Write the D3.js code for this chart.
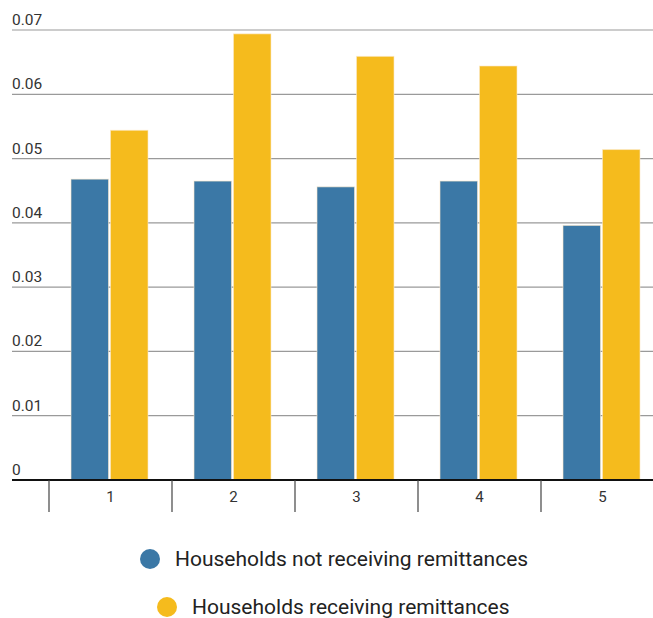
<!DOCTYPE html>
<html>
<head>
<meta charset="utf-8">
<script src="https://cdn.jsdelivr.net/npm/d3@7"></script>
<style>
  body { margin: 0; background: #fff; }
  svg { display: block; font-family: Roboto, sans-serif; }
</style>
</head>
<body>
<svg id="chart"></svg>
<script>
// data
var categories = ["1", "2", "3", "4", "5"];
var notReceiving = [0.0468, 0.0465, 0.0456, 0.0465, 0.0396];
var receiving = [0.0544, 0.0694, 0.0659, 0.0644, 0.0514];
var yTicks = [0, 0.01, 0.02, 0.03, 0.04, 0.05, 0.06, 0.07];
var seriesNames = ["Households not receiving remittances", "Households receiving remittances"];
var seriesColors = ["#3b78a6", "#f5bb1d"];

var width = 653, height = 618;
var svg = d3.select("#chart").attr("width", width).attr("height", height);

var x0 = 49, bandW = 123;
var x = d3.scaleBand()
  .domain(categories)
  .range([x0, x0 + bandW * categories.length])
  .paddingInner(0).paddingOuter(0);

var y = d3.scaleLinear().domain([0, 0.07]).range([480, 30]);

// gridlines + tick labels
var grid = svg.append("g");
grid.selectAll("line")
  .data(yTicks.filter(function(d) { return d > 0; }))
  .enter().append("line")
  .attr("x1", 12).attr("x2", width)
  .attr("y1", function(d) { return y(d); })
  .attr("y2", function(d) { return y(d); })
  .attr("stroke", "#9a9a9a")
  .attr("stroke-width", 1.2);

grid.selectAll("text")
  .data(yTicks)
  .enter().append("text")
  .attr("x", 12)
  .attr("y", function(d) { return y(d) - 5; })
  .attr("fill", "#333")
  .attr("font-size", "15.5px")
  .text(function(d) { return d === 0 ? "0" : d3.format(".2f")(d); });

// bars
var data = categories.map(function(c, i) {
  return { cat: c, values: [notReceiving[i], receiving[i]] };
});

var x1 = d3.scaleBand()
  .domain([0, 1])
  .range([22, bandW - 24])
  .paddingInner(0.05);

var groups = svg.selectAll(".grp")
  .data(data)
  .enter().append("g")
  .attr("class", "grp")
  .attr("transform", function(d) { return "translate(" + x(d.cat) + ",0)"; });

groups.selectAll("rect")
  .data(function(d) { return d.values; })
  .enter().append("rect")
  .attr("x", function(d, i) { return x1(i); })
  .attr("y", function(d) { return y(d); })
  .attr("width", x1.bandwidth())
  .attr("height", function(d) { return y(0) - y(d); })
  .attr("fill", function(d, i) { return seriesColors[i]; })
  .attr("stroke", "#fbeacb")
  .attr("stroke-opacity", 0.6)
  .attr("stroke-width", 1);

// x axis
var xAxis = svg.append("g");
xAxis.append("line")
  .attr("x1", 12).attr("x2", width)
  .attr("y1", y(0)).attr("y2", y(0))
  .attr("stroke", "#111")
  .attr("stroke-width", 2);

xAxis.selectAll(".tick")
  .data(categories)
  .enter().append("line")
  .attr("x1", function(d) { return x(d); })
  .attr("x2", function(d) { return x(d); })
  .attr("y1", y(0)).attr("y2", y(0) + 32)
  .attr("stroke", "#444")
  .attr("stroke-width", 1.2);

xAxis.selectAll("text")
  .data(categories)
  .enter().append("text")
  .attr("x", function(d) { return x(d) + x.bandwidth() / 2; })
  .attr("y", y(0) + 22)
  .attr("text-anchor", "middle")
  .attr("fill", "#333")
  .attr("font-size", "15px")
  .text(function(d) { return d; });

// legend
var legendPos = [[150, 559], [167, 607]];
var legend = svg.selectAll(".leg")
  .data(seriesNames)
  .enter().append("g")
  .attr("class", "leg")
  .attr("transform", function(d, i) { return "translate(" + legendPos[i][0] + "," + legendPos[i][1] + ")"; });

legend.append("circle")
  .attr("r", 10)
  .attr("fill", function(d, i) { return seriesColors[i]; });

legend.append("text")
  .attr("x", 25)
  .attr("y", 7)
  .attr("fill", "#222")
  .attr("font-size", "21px")
  .text(function(d) { return d; });
</script>
</body>
</html>
